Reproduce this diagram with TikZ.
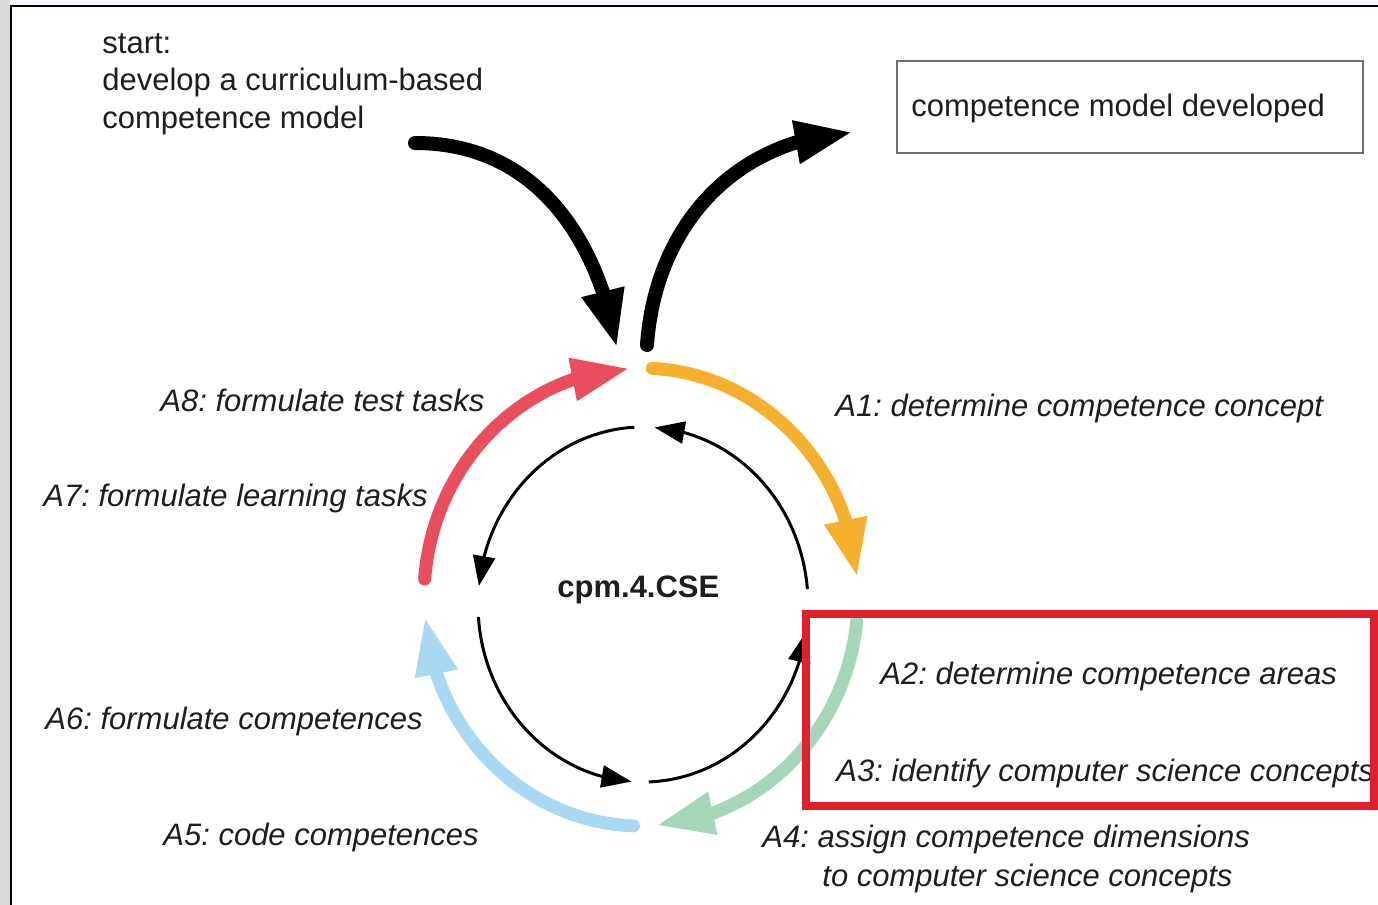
\documentclass[tikz,border=0pt]{standalone}
\usepackage{fontspec}
\setmainfont{Liberation Sans}
\usetikzlibrary{arrows.meta,bending,calc}
\frenchspacing

\definecolor{ringyellow}{HTML}{F5B12E}
\definecolor{ringgreen}{HTML}{A5D6B7}
\definecolor{ringblue}{HTML}{A9D9F2}
\definecolor{ringred}{HTML}{EA4E5C}
\definecolor{framered}{HTML}{E21F2E}
\definecolor{inkgray}{HTML}{1E1E1E}
\definecolor{boxgray}{HTML}{707070}
\definecolor{matte}{HTML}{D8D9DB}

\begin{document}
\begin{tikzpicture}[x=0.5pt,y=0.5pt,
  lbl/.style={inner sep=0pt, text=inkgray, anchor=base west,
    font=\fontsize{15.5pt}{18.75pt}\selectfont\itshape},
  plain/.style={inner sep=0pt, text=inkgray, anchor=base west,
    font=\fontsize{15.5pt}{18.75pt}\selectfont},
  ringarc/.style={line width=6.5pt, line cap=round,
    -{Triangle[length=29pt,width=20pt]}},
  cyclearc/.style={line width=1.5pt, -{Triangle[length=15pt,width=11pt]}},
  bigarrow/.style={line width=7pt, line cap=round,
    -{Triangle[length=29pt,width=20pt]}},
  donebox/.style={draw=boxgray, line width=1.2pt, minimum width=233pt,
    minimum height=46pt, inner sep=0pt},
  focusbox/.style={draw=framered, line width=4pt},
]
\useasboundingbox (0,0) rectangle (1378,-905);

% page backdrop and panel frame
\fill[white] (0,0) rectangle (1378,-905);
\fill[matte] (0,0) rectangle (10,-905);
\fill[matte!70!blue!8!white] (10,0) rectangle (1378,-6);
\draw[black, line width=1pt] (10.5,-905) -- (10.5,-6) -- (1378,-6);

% centres of the two cycles
\coordinate (oc) at (641,-597);
\coordinate (ic) at (643,-604.5);

% outer coloured cycle A1..A8
\draw[ringarc, ringyellow] ($(oc)+(87:108.5pt and 114.5pt)$)
  arc[start angle=87, end angle=5, x radius=108.5pt, y radius=114.5pt];
\draw[ringarc, ringgreen] ($(oc)+(-6:108.5pt and 114.5pt)$)
  arc[start angle=-6, end angle=-86, x radius=108.5pt, y radius=114.5pt];
\draw[ringarc, ringblue] ($(oc)+(-92:108.5pt and 114.5pt)$)
  arc[start angle=-92, end angle=-175, x radius=108.5pt, y radius=114.5pt];
\draw[ringarc, ringred] ($(oc)+(175.5:108.5pt and 114.5pt)$)
  arc[start angle=175.5, end angle=93, x radius=108.5pt, y radius=114.5pt];

% inner black cycle
\draw[cyclearc] ($(ic)+(5:82.5pt and 88.75pt)$)
  arc[start angle=5, end angle=86, x radius=82.5pt, y radius=88.75pt];
\draw[cyclearc] ($(ic)+(93:82.5pt and 88.75pt)$)
  arc[start angle=93, end angle=174, x radius=82.5pt, y radius=88.75pt];
\draw[cyclearc] ($(ic)+(184:82.5pt and 88.75pt)$)
  arc[start angle=184, end angle=266, x radius=82.5pt, y radius=88.75pt];
\draw[cyclearc] ($(ic)+(272:82.5pt and 88.75pt)$)
  arc[start angle=272, end angle=351, x radius=82.5pt, y radius=88.75pt];

% entry and exit of the cycle
\coordinate (entryfrom) at (415,-143);
\coordinate (entryto) at (617,-348);
\coordinate (exitfrom) at (647,-345);
\coordinate (exitto) at (853,-132);
\draw[bigarrow] (entryfrom) .. controls (535,-143) and (598,-238) .. (entryto);
\draw[bigarrow] (exitfrom) .. controls (655,-230) and (730,-140) .. (exitto);

% start text
\node[plain] (start1) at (102,-53) {start:};
\node[plain] (start2) at (102,-90) {develop a curriculum-based};
\node[plain] (start3) at (102,-128) {competence model};

% result box
\node[donebox] (done) at (1130,-107) {};
\node[plain] (donetext) at (911,-116) {competence model developed};

% centre label
\node[plain, font=\fontsize{15.5pt}{18.75pt}\selectfont\bfseries] (cpm) at (557,-597) {cpm.4.CSE};

% activity labels
\node[lbl] (a1) at (835,-416) {A1: determine competence concept};
\node[lbl] (a2) at (880,-684) {A2: determine competence areas};
\node[lbl] (a3) at (836,-781) {A3: identify computer science concepts};
\node[lbl] (a4a) at (762,-847) {A4: assign competence dimensions};
\node[lbl] (a4b) at (822,-886) {to computer science concepts};
\node[lbl] (a5) at (163,-845) {A5: code competences};
\node[lbl] (a6) at (45,-729) {A6: formulate competences};
\node[lbl] (a7) at (43,-506) {A7: formulate learning tasks};
\node[lbl] (a8) at (160,-411) {A8: formulate test tasks};

% highlight around A2 and A3
\draw[focusbox] (806,-614) rectangle (1374,-806);
\end{tikzpicture}
\end{document}
